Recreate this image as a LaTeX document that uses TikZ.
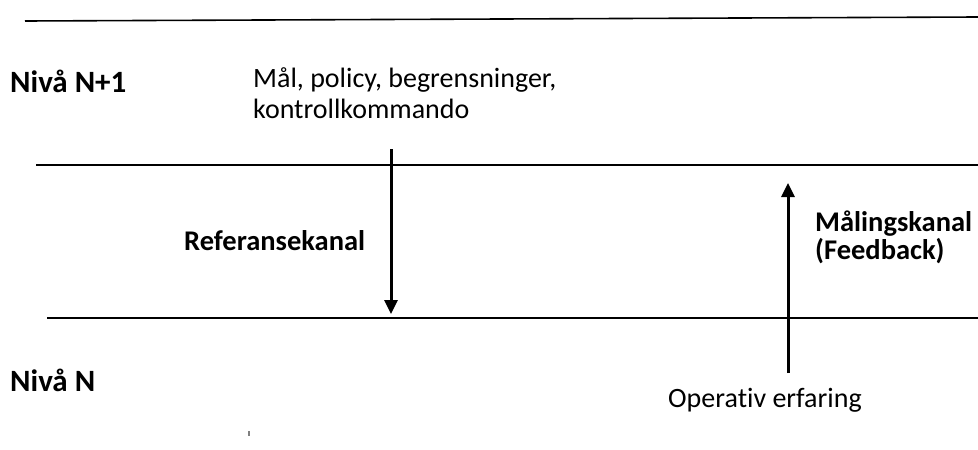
\documentclass[tikz,border=0pt]{standalone}
\usepackage{fontspec}
\setmainfont{Carlito}[Ligatures=NoCommon]
\usetikzlibrary{arrows.meta,positioning}

\begin{document}
\begin{tikzpicture}[
    x=1pt, y=-1pt,
    every node/.style={font=\fontsize{28}{31}\selectfont, inner sep=0pt, anchor=base west},
    lvl/.style={font=\fontsize{31}{34}\selectfont\bfseries},
    chan/.style={font=\fontsize{28.5}{28}\selectfont\bfseries, align=left},
    txt/.style={align=left},
    sep/.style={line width=1.6pt},
    arr/.style={-{Triangle[width=13pt,length=14pt]}, line width=3pt}
]
\useasboundingbox (0,0) rectangle (978,450);

% level borders
\coordinate (topL) at (25,21);
\coordinate (topR) at (978,17);
\coordinate (midL) at (36,165);
\coordinate (midR) at (978,165);
\coordinate (botL) at (47,318);
\coordinate (botR) at (978,318);
\draw[sep] (topL) -- (topR);
\draw[sep] (midL) -- (midR);
\draw[sep] (botL) -- (botR);

% labels
\node[lvl] (upper) at (10,92) {Nivå N+1};
\node[lvl] (lower) at (10,391) {Nivå N};
\node[txt] (goal) at (253,118) {Mål, policy, begrensninger,\\kontrollkommando};
\node[chan] (ref) at (184,250) {Referansekanal};
\node[chan] (meas) at (815,259) {Målingskanal\\(Feedback)};
\node[txt] (oper) at (668,407) {Operativ erfaring};

% channels
\coordinate (refS) at (391,149);
\coordinate (refE) at (391,314);
\coordinate (measS) at (788,373);
\coordinate (measE) at (788,183);
\draw[arr] (refS) -- (refE);
\draw[arr] (measS) -- (measE);

% stray mark
\coordinate (markA) at (249,431);
\coordinate (markB) at (249,436);
\draw[gray, line width=1.5pt] (markA) -- (markB);
\end{tikzpicture}
\end{document}
